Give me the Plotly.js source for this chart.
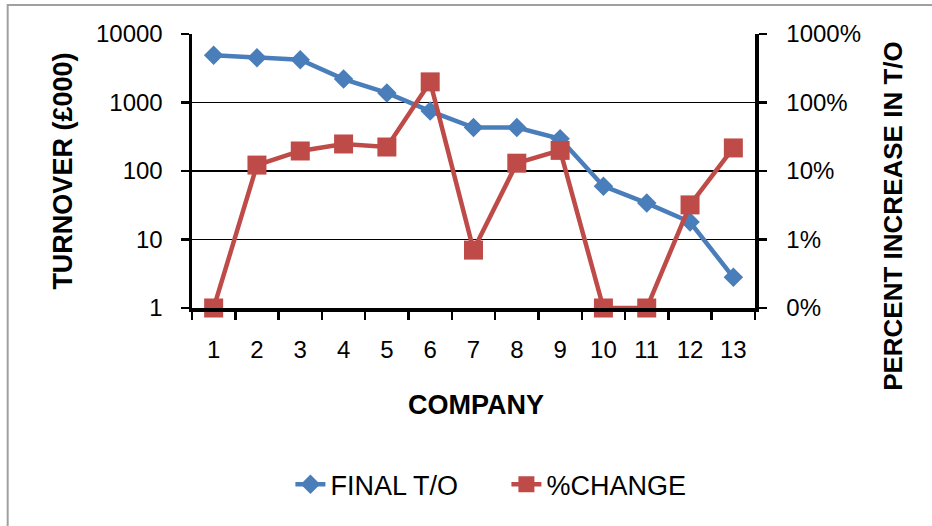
<!DOCTYPE html>
<html>
<head>
<meta charset="utf-8">
<script src="https://cdn.plot.ly/plotly-3.0.1.min.js"></script>
<style>
html,body{margin:0;padding:0;background:#fff;}
#chart{width:932px;height:526px;}
</style>
</head>
<body>
<div id="chart"></div>
<script>
const companies = ["1","2","3","4","5","6","7","8","9","10","11","12","13"];
const finalTO = [4900, 4500, 4200, 2200, 1380, 750, 430, 430, 295, 60, 34, 18, 2.8];
const pctChange = [0.1, 12.2, 19.6, 24.8, 22.4, 200, 0.7, 13, 20, 0.1, 0.1, 3.2, 21.7];
const leftTickVals = [1, 10, 100, 1000, 10000];
const leftTickText = ["1", "10", "100", "1000", "10000"];
const rightTickVals = [0.1, 1, 10, 100, 1000];
const rightTickText = ["0%", "1%", "10%", "100%", "1000%"];

const FONT = "Liberation Sans, Arial, sans-serif";
const blue = "#4a7ebb";
const red = "#be4b48";

const traces = [
  {
    x: companies, y: finalTO, name: "FINAL T/O", type: "scatter", mode: "lines+markers",
    line: {color: blue, width: 4.5}, marker: {symbol: "diamond", size: 15, color: blue},
    cliponaxis: false, yaxis: "y"
  },
  {
    x: companies, y: pctChange, name: "%CHANGE", type: "scatter", mode: "lines+markers",
    line: {color: red, width: 4.5}, marker: {symbol: "square", size: 19, color: red},
    cliponaxis: false, yaxis: "y2"
  }
];

const layout = {
  width: 932, height: 526,
  margin: {l: 191.5, r: 177, t: 34, b: 218},
  paper_bgcolor: "#fff", plot_bgcolor: "#fff",
  font: {family: FONT, color: "#000", size: 24},
  showlegend: true,
  legend: {orientation: "h", x: 0.1748, xanchor: "left", y: -0.645, yanchor: "middle",
           entrywidth: 171, entrywidthmode: "pixels",
           font: {family: FONT, size: 27, color: "#000"}, tracegroupgap: 0},
  xaxis: {
    type: "category", range: [-0.5, 12.5], showgrid: false, zeroline: false,
    showline: true, linecolor: "#000", linewidth: 3.5,
    ticks: "outside", tickson: "boundaries", ticklen: 8, tickwidth: 2.5, tickcolor: "#000",
    ticklabelstandoff: 18,
    tickfont: {family: FONT, size: 24, color: "#000"}
  },
  yaxis: {
    type: "log", range: [0, 4], tickvals: leftTickVals, ticktext: leftTickText,
    showgrid: true, gridcolor: "#000", gridwidth: 1.5, zeroline: false,
    showline: true, linecolor: "#000", linewidth: 3.5,
    ticks: "outside", ticklen: 8, tickwidth: 2.5, tickcolor: "#000",
    ticklabelstandoff: 13,
    tickfont: {family: FONT, size: 24, color: "#000"}
  },
  yaxis2: {
    type: "log", range: [-1, 3], overlaying: "y", side: "right",
    tickvals: rightTickVals, ticktext: rightTickText,
    showgrid: false, zeroline: false,
    showline: true, linecolor: "#000", linewidth: 3.5,
    ticks: "outside", ticklen: 8, tickwidth: 2.5, tickcolor: "#000",
    ticklabelstandoff: 15,
    tickfont: {family: FONT, size: 24, color: "#000"}
  },
  annotations: [
    {text: "TURNOVER (£000)", xref: "paper", yref: "paper", x: -0.2298, y: 0.5,
     textangle: -90, showarrow: false, xanchor: "center", yanchor: "middle",
     font: {family: FONT, size: 27, color: "#000", weight: "bold"}},
    {text: "PERCENT INCREASE IN T/O", xref: "paper", yref: "paper", x: 1.245, y: 0.336,
     textangle: -90, showarrow: false, xanchor: "center", yanchor: "middle",
     font: {family: FONT, size: 26, color: "#000", weight: "bold"}},
    {text: "COMPANY", xref: "paper", yref: "paper", x: 0.505, y: -0.354,
     showarrow: false, xanchor: "center", yanchor: "middle",
     font: {family: FONT, size: 27, color: "#000", weight: "bold"}}
  ],
  shapes: [
    {type: "rect", xref: "paper", yref: "paper", x0: -0.3274, x1: 2, y0: -1, y1: 1.106,
     line: {color: "#a0a0a0", width: 2}, fillcolor: "rgba(0,0,0,0)", layer: "below"}
  ]
};

Plotly.newPlot("chart", traces, layout, {displayModeBar: false, staticPlot: true});
</script>
</body>
</html>
